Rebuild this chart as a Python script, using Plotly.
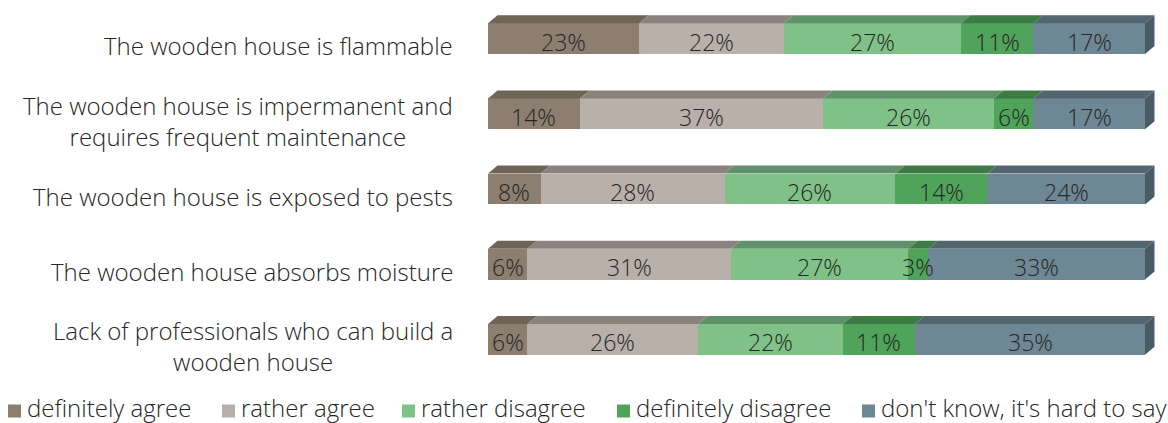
import numpy as np
import plotly.graph_objects as go

# Survey statements (top to bottom) and answer shares in percent
statements = [
    "The wooden house is flammable",
    "The wooden house is impermanent and<br>requires frequent maintenance",
    "The wooden house is exposed to pests",
    "The wooden house absorbs moisture",
    "Lack of professionals who can build a<br>wooden house",
]
answers = [
    "definitely agree",
    "rather agree",
    "rather disagree",
    "definitely disagree",
    "don't know, it's hard to say",
]
definitely_agree = [23, 14, 8, 6, 6]
rather_agree = [22, 37, 28, 31, 26]
rather_disagree = [27, 26, 26, 27, 22]
definitely_disagree = [11, 6, 14, 3, 11]
dont_know = [17, 17, 24, 33, 35]

series = [definitely_agree, rather_agree, rather_disagree, definitely_disagree, dont_know]

front_colors = ["#8C7F70", "#B9B0AA", "#80C188", "#50A35A", "#6E8794"]
top_colors = ["#6F6458", "#8A837D", "#60926A", "#3D7B45", "#53666F"]
side_color = "#4A5B66"

W, H = 1168, 423
ML, MR, MT, MB = 488, 3, 1, 46
PW, PH = W - ML - MR, H - MT - MB
FULL_PX = 657  # pixel length of a 100 % bar
Y_RANGE = [-0.5, 4.5]
X_RANGE = [0, 100 * PW / FULL_PX]
BAR_W = 0.41

# oblique depth of the pseudo-3D bars, converted from pixels to axis units
DX = 9.5 * (X_RANGE[1] - X_RANGE[0]) / PW
DY = 8.0 * (Y_RANGE[1] - Y_RANGE[0]) / PH

FONT = "Open Sans"
TXT = "#262626"
n = len(statements)
ypos = np.arange(n)[::-1]  # first statement at the top

fig = go.Figure()
for name, vals, col in zip(answers, series, front_colors):
    fig.add_trace(go.Bar(
        y=ypos, x=vals, orientation="h", name=name,
        width=BAR_W,
        marker=dict(color=col, line=dict(width=0)),
        showlegend=False, hoverinfo="x+name",
    ))

cum = np.cumsum(np.array(series), axis=0)
annotations = []

# percentage labels centred on each segment, drawn above all bars
for k, vals in enumerate(series):
    mids = cum[k] - np.array(vals) / 2
    for j, v in enumerate(vals):
        annotations.append(dict(
            text=f"{v}%", x=float(mids[j]), xref="x", y=ypos[j], yref="y",
            xanchor="center", yanchor="middle", yshift=-3, showarrow=False,
            font=dict(family=FONT, size=23, color=TXT, weight=300),
        ))

# top faces and right end faces of each stacked bar
shapes = []
for j in range(n):
    yt = ypos[j] + BAR_W / 2
    yb = ypos[j] - BAR_W / 2
    left = 0.0
    for k in range(len(series)):
        right = float(cum[k][j])
        path = (f"M {left},{yt} L {right},{yt} L {right + DX},{yt + DY} "
                f"L {left + DX},{yt + DY} Z")
        shapes.append(dict(type="path", path=path, xref="x", yref="y",
                           fillcolor=top_colors[k], line=dict(width=0), layer="above"))
        left = right
    path = (f"M {left},{yb} L {left},{yt} L {left + DX},{yt + DY} "
            f"L {left + DX},{yb + DY} Z")
    shapes.append(dict(type="path", path=path, xref="x", yref="y",
                       fillcolor=side_color, line=dict(width=0), layer="above"))

# category labels, right-aligned to the left of the bars
for j, s in enumerate(statements):
    annotations.append(dict(
        text=s, x=(455 - ML) / PW, xref="paper", y=ypos[j], yref="y",
        xanchor="right", yanchor="middle", align="center", yshift=-7,
        showarrow=False, font=dict(family=FONT, size=24, color=TXT, weight=300),
    ))

# legend row along the bottom
legend_sq_px = [8, 222, 402, 617, 862]
leg_y_px = 411
for name, col, px in zip(answers, front_colors, legend_sq_px):
    x0 = (px - ML) / PW
    x1 = (px + 13 - ML) / PW
    y0 = (H - MB - (leg_y_px + 6.5)) / PH
    y1 = (H - MB - (leg_y_px - 6.5)) / PH
    shapes.append(dict(type="rect", xref="paper", yref="paper", x0=x0, x1=x1,
                       y0=y0, y1=y1, fillcolor=col, line=dict(width=0)))
    annotations.append(dict(
        text=name, x=(px + 18 - ML) / PW, xref="paper",
        y=(H - MB - H) / PH, yref="paper",
        xanchor="left", yanchor="bottom", borderpad=0, yshift=-2,
        showarrow=False,
        font=dict(family=FONT, size=24, color=TXT, weight=300),
    ))

fig.update_layout(
    barmode="stack",
    width=W, height=H,
    margin=dict(l=ML, r=MR, t=MT, b=MB, pad=0),
    paper_bgcolor="white", plot_bgcolor="white",
    bargap=0,
    xaxis=dict(range=X_RANGE, visible=False, fixedrange=True),
    yaxis=dict(range=Y_RANGE, visible=False, fixedrange=True),
    shapes=shapes,
    annotations=annotations,
    showlegend=False,
)

fig.write_html("out.html")
